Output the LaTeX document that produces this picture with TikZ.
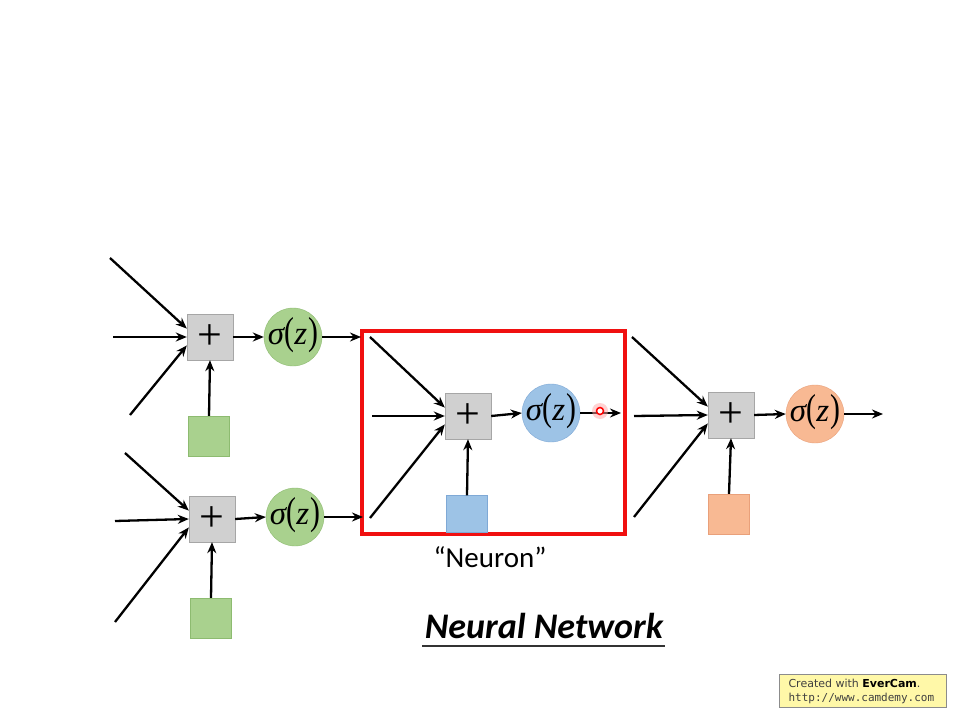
\documentclass[tikz,border=0pt]{standalone}
\usepackage{graphicx}
\usepackage{fontspec}
\setmainfont{Carlito}
\newfontfamily\serifface{Liberation Serif}
\newfontfamily\wmfont{DejaVu Sans}
\newfontfamily\wmmono{DejaVu Sans Mono}
\usetikzlibrary{arrows.meta}
\definecolor{sumgray}{HTML}{D0D0D0}
\definecolor{sumedge}{HTML}{A6A6A6}
\definecolor{gfill}{HTML}{A9D18E}
\definecolor{gedge}{HTML}{8DBB70}
\definecolor{bfill}{HTML}{9DC3E6}
\definecolor{bedge}{HTML}{7FA9D6}
\definecolor{ofill}{HTML}{F8B993}
\definecolor{oedge}{HTML}{E9A07A}
\definecolor{framered}{HTML}{F01010}
\definecolor{notefill}{HTML}{FFF8A8}
% activation label: italic sigma and z with tall thin parentheses,
% boxed with no size so the circle keeps its own diameter
\newcommand{\sigz}{\makebox[0pt]{\raisebox{-7.5pt}[0pt][0pt]{{\serifface\itshape σ}\kern0.5pt\scalebox{0.9}[1.18]{(}{\serifface\itshape z}\kern1pt\scalebox{0.9}[1.18]{)}}}}
\tikzset{
  sumbox/.style={draw=sumedge, fill=sumgray, minimum width=46pt, minimum height=46pt, inner sep=0pt, font=\serifface\fontsize{44}{44}\selectfont},
  actcirc/.style={circle, minimum size=58pt, inner sep=0pt, font=\serifface\fontsize{33}{33}\selectfont},
  biassq/.style={minimum width=41pt, minimum height=40pt, inner sep=0pt},
  conn/.style={black, line width=2.3pt, -{Stealth[length=11pt,width=9pt]}},
}
\begin{document}
\begin{tikzpicture}[x=1pt,y=-1pt]
\useasboundingbox (0,0) rectangle (956,717);
\fill[white] (0,0) rectangle (956,717);

% ---- first hidden neuron (top)
\node[sumbox] (p1) at (210,337) {+};
\node[actcirc, draw=gedge, fill=gfill] (s1) at (293,337) {\sigz};
\node[biassq, draw=gedge, fill=gfill] (b1) at (209,436) {};
\coordinate (i1a) at (110,258);
\coordinate (i1b) at (113,337);
\coordinate (i1c) at (130,415);
\draw[conn] (i1a) -- (p1.160);
\draw[conn] (i1b) -- (p1.west);
\draw[conn] (i1c) -- (p1.200);
\draw[conn] (b1.north) -- (p1.south);
\draw[conn] (p1.east) -- (s1.west);

% ---- second hidden neuron (bottom)
\node[sumbox] (p2) at (212,519) {+};
\node[actcirc, draw=gedge, fill=gfill] (s2) at (295,517) {\sigz};
\node[biassq, draw=gedge, fill=gfill] (b2) at (211,618) {};
\coordinate (i2a) at (125,453);
\coordinate (i2b) at (115,521);
\coordinate (i2c) at (115,622);
\draw[conn] (i2a) -- (p2.160);
\draw[conn] (i2b) -- (p2.west);
\draw[conn] (i2c) -- (p2.200);
\draw[conn] (b2.north) -- (p2.south);
\draw[conn] (p2.east) -- (s2.west);

% ---- highlighted neuron
\node[draw=framered, line width=3.2pt, minimum width=263pt, minimum height=203pt, inner sep=0pt] (frame) at (493.5,432.5) {};
\node[sumbox] (p3) at (468,416) {+};
\node[actcirc, draw=bedge, fill=bfill] (s3) at (551,413) {\sigz};
\node[biassq, draw=bedge, fill=bfill, minimum height=37pt] (b3) at (467,514) {};
\coordinate (i3a) at (370,337);
\coordinate (i3b) at (372,416);
\coordinate (i3c) at (370,518);
\coordinate (o3) at (621,413);
\coordinate (o1) at (361,337);
\coordinate (o2) at (363,517);
\draw[conn] (s1.east) -- (o1);
\draw[conn] (s2.east) -- (o2);
\draw[conn] (i3a) -- (p3.160);
\draw[conn] (i3b) -- (p3.west);
\draw[conn] (i3c) -- (p3.200);
\draw[conn] (b3.north) -- (p3.south);
\draw[conn] (p3.east) -- (s3.west);
\draw[conn] (s3.east) -- (o3);
% pointer mark
\fill[red!35, opacity=0.5] (600,411) circle (8pt);
\node[circle, draw=red, line width=1.5pt, fill=white, minimum size=7pt, inner sep=0pt] (ptr) at (600,411) {};

\node[font=\fontsize{29}{29}\selectfont] (lbl) at (490,557) {“Neuron”};

% ---- output neuron
\node[sumbox] (p4) at (731,415) {+};
\node[actcirc, draw=oedge, fill=ofill] (s4) at (815,414) {\sigz};
\node[biassq, draw=oedge, fill=ofill] (b4) at (729,514) {};
\coordinate (i4a) at (632,337);
\coordinate (i4b) at (634,416);
\coordinate (i4c) at (634,517);
\coordinate (o4) at (883,414);
\draw[conn] (i4a) -- (p4.160);
\draw[conn] (i4b) -- (p4.west);
\draw[conn] (i4c) -- (p4.200);
\draw[conn] (b4.north) -- (p4.south);
\draw[conn] (p4.east) -- (s4.west);
\draw[conn] (s4.east) -- (o4);

% ---- title
\node[font=\fontsize{36}{36}\selectfont\bfseries\itshape] (title) at (544,626) {Neural Network};
\draw[line width=2.2pt, black!80] (422,646) -- (665,646);

% ---- recorder note
\node[draw=black!45, fill=notefill, line width=0.8pt, minimum width=167pt, minimum height=33pt, inner sep=0pt] (note) at (862.5,690.5) {};
\node[anchor=west, font=\wmfont\fontsize{11}{12}\selectfont, text=black!75] (n1) at (785,683.5) {Created with \textbf{\color{black}EverCam}.};
\node[anchor=west, font=\wmmono\fontsize{11}{12}\selectfont, text=black!75] (n2) at (785,698) {http://www.camdemy.com};
\end{tikzpicture}
\end{document}
